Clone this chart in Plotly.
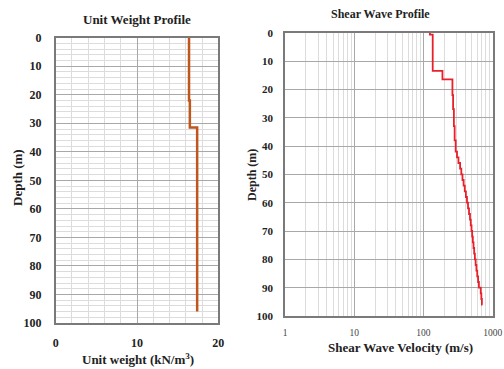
import plotly.graph_objects as go

# ---- data ----
uw_depth = [0, 22, 31.5, 96]
uw_value = [16.4, 16.5, 17.4, 17.4]

vs_depth = [0, 0.7, 13.5, 16.5, 22, 27, 33, 38, 42, 44, 46, 48, 50, 52, 54, 56, 58,
            60, 62, 64, 66, 68, 70, 72, 74, 76, 78, 80, 82, 84, 86, 88, 90, 92, 94, 96]
vs_value = [124, 136, 188, 262, 268, 275, 282, 292, 305, 320, 338, 352, 366, 380, 395, 410, 425,
            440, 455, 470, 482, 494, 505, 516, 528, 540, 553, 567, 582, 598, 615, 632, 672, 685, 698, 710]

depth_ticks = [0, 10, 20, 30, 40, 50, 60, 70, 80, 90, 100]
uw_ticks = [0, 10, 20]
vs_ticks = [1, 10, 100, 1000]

SERIF = "Liberation Serif"

fig = go.Figure()
fig.add_trace(go.Scatter(x=uw_value, y=uw_depth, mode="lines", line_shape="vh",
                         line=dict(color="#C0561B", width=2.5), xaxis="x", yaxis="y",
                         showlegend=False))
fig.add_trace(go.Scatter(x=vs_value, y=vs_depth, mode="lines", line_shape="vh",
                         line=dict(color="#E8202A", width=1.8), xaxis="x2", yaxis="y2",
                         showlegend=False))

W, H = 504, 369
def px(x): return x / W
def py(y): return 1 - y / H

frame = dict(showline=True, mirror=True, linecolor="#7a7a7a", linewidth=1.5,
             zeroline=False, automargin=False)

fig.update_layout(
    width=W, height=H, margin=dict(l=0, r=0, t=0, b=0, autoexpand=False),
    paper_bgcolor="white", plot_bgcolor="white",
    font=dict(family=SERIF, color="#222"),
    xaxis=dict(domain=[px(55.7), px(218.3)], range=[0, 20], anchor="y",
               tickvals=uw_ticks, ticks="", ticklabelstandoff=8,
               tickfont=dict(size=12, weight="bold", family=SERIF),
               showgrid=True, gridcolor="#a8a8a8", gridwidth=1,
               minor=dict(dtick=2, showgrid=True, gridcolor="#dcdcdc", gridwidth=1),
               **frame),
    yaxis=dict(domain=[py(323), py(37.7)], range=[100, 0], anchor="x",
               tickvals=depth_ticks, ticks="", ticklabelstandoff=10,
               tickfont=dict(size=12, weight="bold", family=SERIF),
               showgrid=True, gridcolor="#a8a8a8", gridwidth=1,
               minor=dict(dtick=2, showgrid=True, gridcolor="#dcdcdc", gridwidth=1),
               **frame),
    xaxis2=dict(domain=[px(285), px(492.7)], type="log", range=[0, 3], anchor="y2",
                tickvals=vs_ticks, ticks="", ticklabelstandoff=7,
                ticklabeloverflow="allow",
                tickfont=dict(size=9.5, family=SERIF, color="#444"),
                showgrid=True, gridcolor="#a8a8a8", gridwidth=1,
                minor=dict(dtick="D1", showgrid=True, gridcolor="#dcdcdc", gridwidth=1),
                **frame),
    yaxis2=dict(domain=[py(316), py(32.7)], range=[100, 0], anchor="x2",
                tickvals=depth_ticks, ticks="", ticklabelstandoff=8,
                tickfont=dict(size=11, weight="bold", family=SERIF),
                showgrid=True, gridcolor="#a8a8a8", gridwidth=1,
                **frame),
)

def ann(text, x, y, size, angle=0):
    fig.add_annotation(text=text, x=px(x), y=py(y), xref="paper", yref="paper",
                       showarrow=False, textangle=angle, xanchor="center", yanchor="middle",
                       font=dict(family=SERIF, size=size, weight="bold", color="#222"))

ann("Unit Weight Profile", 137, 20, 13)
ann("Shear Wave Profile", 380, 14, 12)
ann("Unit weight (kN/m<sup>3</sup>)", 138, 359, 13)
ann("Shear Wave Velocity (m/s)", 400, 347, 13)
ann("Depth (m)", 18, 178, 13, -90)
ann("Depth (m)", 252, 175, 12, -90)

fig.write_html("out.html", config={"displayModeBar": False},
               post_script="document.body.style.margin='0px';")
